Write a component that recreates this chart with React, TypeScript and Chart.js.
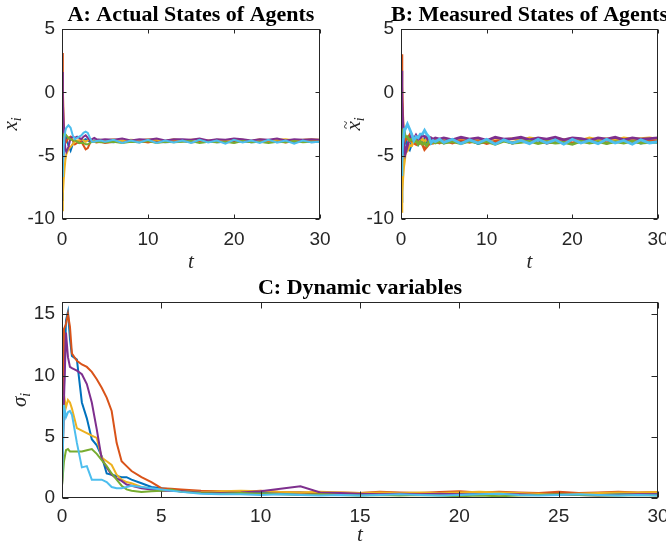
import React, { useEffect, useRef } from 'react';
import { Chart, registerables } from 'chart.js';

Chart.register(...registerables);

// ---------- shared ----------
const seriesColors = ['#0072BD', '#D95319', '#EDB120', '#7E2F8E', '#77AC30', '#4DBEEE'];

// ---------- panels A and B: time grid ----------
const tAB = [0, 0.1, 0.2, 0.3, 0.4, 0.5, 0.75, 1, 1.25, 1.5, 1.75, 2, 2.25, 2.5, 2.75, 3, 3.25, 3.5, 3.75, 4, 4.5,
  5, 6, 7, 8, 9, 10, 11, 12, 13, 14, 15, 16, 17, 18, 19, 20, 21, 22, 23, 24, 25, 26, 27, 28, 29, 30];
const xTicksAB = [0, 10, 20, 30];
const yTicksAB = [-10, -5, 0, 5];

// A: actual states
const aBlue = [-8.5, -6.2, -4.6, -3.6, -3.4, -3.6, -4.2, -4.6, -4.1, -3.8, -3.9, -4.0, -3.9, -3.8, -3.7, -3.8, -3.9, -3.9, -3.8, -3.9, -3.85,
  -3.9, -3.95, -3.85, -3.9, -3.95, -3.85, -3.9, -3.95, -3.9, -3.85, -3.95, -3.9, -3.85, -3.95, -3.9, -3.9, -3.85, -3.95, -3.9, -3.85, -3.95, -3.9, -3.9, -3.85, -3.95, -3.9];
const aOrange = [3.1, 0.2, -2.4, -3.4, -3.8, -3.9, -3.6, -3.5, -3.8, -4.1, -4.0, -3.8, -3.9, -4.2, -4.5, -4.4, -4.0, -3.8, -3.9, -3.95, -3.9,
  -4.0, -3.9, -3.8, -3.9, -3.85, -3.95, -3.8, -3.9, -3.85, -3.8, -3.95, -3.9, -3.8, -3.9, -3.85, -3.95, -3.8, -3.9, -3.85, -3.9, -3.8, -3.95, -3.85, -3.9, -3.8, -3.9];
const aYellow = [-9.3, -8.0, -6.9, -6.0, -5.3, -4.9, -4.5, -4.3, -4.1, -3.9, -3.8, -3.8, -3.7, -3.8, -3.9, -3.8, -3.7, -3.8, -3.9, -3.8, -3.75,
  -3.8, -3.7, -3.85, -3.75, -3.8, -3.7, -3.75, -3.85, -3.7, -3.8, -3.75, -3.7, -3.85, -3.75, -3.8, -3.7, -3.75, -3.85, -3.7, -3.8, -3.75, -3.7, -3.8, -3.75, -3.7, -3.75];
const aPurple = [1.6, -0.8, -2.6, -3.8, -4.5, -4.7, -4.3, -3.6, -3.5, -3.6, -3.5, -3.6, -3.7, -3.5, -3.4, -3.6, -3.8, -3.7, -3.6, -3.7, -3.75,
  -3.7, -3.75, -3.65, -3.8, -3.7, -3.75, -3.65, -3.8, -3.7, -3.7, -3.75, -3.65, -3.8, -3.7, -3.75, -3.65, -3.7, -3.8, -3.7, -3.75, -3.65, -3.8, -3.7, -3.75, -3.7, -3.75];
const aGreen = [-3.5, -3.4, -3.3, -3.3, -3.3, -3.4, -3.6, -3.7, -3.8, -3.8, -3.9, -4.0, -4.0, -4.0, -4.1, -4.1, -4.0, -3.9, -3.9, -3.9, -3.95,
  -3.95, -3.9, -4.0, -3.9, -3.95, -3.85, -4.0, -3.9, -3.95, -3.9, -3.85, -4.0, -3.9, -3.95, -3.9, -4.0, -3.85, -3.95, -3.9, -4.0, -3.9, -3.95, -3.85, -3.95, -3.9, -3.9];
const aLightBlue = [-6.6, -5.2, -4.2, -3.5, -3.0, -2.8, -2.6, -2.8, -3.4, -3.7, -3.6, -3.5, -3.4, -3.2, -3.1, -3.2, -3.6, -3.9, -3.9, -3.85, -3.8,
  -3.9, -3.75, -4.0, -3.8, -3.95, -3.75, -4.0, -3.8, -3.95, -3.8, -4.0, -3.75, -3.95, -3.8, -4.05, -3.75, -3.95, -3.8, -4.0, -3.75, -3.95, -3.8, -4.05, -3.8, -3.95, -3.9];

// B: measured states
const bBlue = [-8.6, -6.0, -4.5, -3.7, -3.3, -3.7, -4.3, -4.5, -4.0, -3.9, -3.8, -4.1, -3.8, -3.9, -3.7, -3.9, -3.8, -4.0, -3.8, -3.9, -3.8,
  -4.0, -3.8, -3.95, -3.75, -4.05, -3.85, -3.95, -3.8, -4.0, -3.85, -3.95, -3.75, -4.0, -3.9, -3.8, -4.05, -3.85, -3.95, -3.8, -4.0, -3.85, -3.95, -3.8, -4.0, -3.85, -3.9];
const bOrange = [3.0, 0.5, -2.0, -3.3, -3.9, -3.7, -3.7, -3.4, -3.9, -4.0, -4.1, -3.7, -4.0, -4.1, -4.5, -4.3, -4.1, -3.7, -4.0, -3.9, -4.0,
  -3.8, -4.0, -3.75, -3.95, -3.8, -4.05, -3.85, -3.75, -4.0, -3.8, -3.95, -3.7, -4.0, -3.85, -3.75, -4.0, -3.8, -3.95, -3.75, -4.0, -3.85, -3.7, -3.95, -3.8, -3.9, -3.75];
const bYellow = [-9.4, -7.9, -6.8, -5.9, -5.4, -4.8, -4.6, -4.2, -4.2, -3.8, -3.9, -3.7, -3.8, -3.7, -3.9, -3.7, -3.8, -3.7, -3.9, -3.7, -3.8,
  -3.65, -3.8, -3.6, -3.75, -3.65, -3.85, -3.6, -3.75, -3.65, -3.8, -3.6, -3.7, -3.85, -3.6, -3.75, -3.65, -3.8, -3.6, -3.75, -3.65, -3.8, -3.6, -3.7, -3.65, -3.6, -3.7];
const bPurple = [1.7, -0.6, -2.5, -3.9, -4.4, -4.8, -4.2, -3.7, -3.4, -3.7, -3.4, -3.7, -3.6, -3.4, -3.5, -3.5, -3.9, -3.6, -3.7, -3.6, -3.7,
  -3.6, -3.75, -3.55, -3.7, -3.6, -3.8, -3.55, -3.7, -3.65, -3.55, -3.75, -3.6, -3.7, -3.55, -3.75, -3.6, -3.65, -3.8, -3.6, -3.7, -3.55, -3.75, -3.6, -3.7, -3.65, -3.6];
const bGreen = [-3.4, -3.5, -3.2, -3.4, -3.2, -3.5, -3.5, -3.8, -3.7, -3.9, -3.8, -4.1, -3.9, -4.1, -4.0, -4.2, -3.9, -4.0, -3.9, -4.0, -3.9,
  -4.0, -3.9, -4.05, -3.85, -4.0, -3.9, -4.1, -3.85, -4.0, -3.95, -3.85, -4.05, -3.9, -4.0, -3.95, -4.1, -3.85, -4.0, -3.9, -4.05, -3.9, -4.0, -3.85, -4.0, -3.95, -3.95];
const bLightBlue = [-6.5, -5.3, -4.0, -3.6, -2.9, -2.9, -2.5, -2.9, -3.3, -3.8, -3.5, -3.6, -3.3, -3.3, -3.0, -3.3, -3.5, -4.0, -3.8, -3.9, -3.7,
  -3.95, -3.7, -4.05, -3.75, -4.0, -3.7, -4.1, -3.75, -4.0, -3.8, -4.05, -3.7, -4.0, -3.75, -4.1, -3.7, -4.0, -3.8, -4.05, -3.7, -4.0, -3.8, -4.1, -3.75, -4.0, -3.9];

// ---------- panel C: dynamic variables ----------
const tC = [0, 0.1, 0.2, 0.3, 0.4, 0.5, 0.75, 1, 1.25, 1.5, 1.75, 2, 2.25, 2.5, 2.75, 3, 3.25, 3.5, 4, 4.5,
  5, 5.5, 6, 7, 8, 9, 10, 11, 12, 13, 14, 15, 16, 17, 18, 19, 20, 21, 22, 23, 24, 25, 26, 27, 28, 29, 30];
const xTicksC = [0, 5, 10, 15, 20, 25, 30];
const yTicksC = [0, 5, 10, 15];
const cBlue = [1.0, 9.0, 14.5, 15.2, 13.0, 11.6, 11.3, 7.8, 6.5, 4.8, 4.3, 3.4, 2.0, 1.9, 1.8, 1.7, 1.7, 1.5, 1.2, 0.9,
  0.8, 0.7, 0.6, 0.55, 0.5, 0.45, 0.5, 0.4, 0.45, 0.35, 0.4, 0.3, 0.35, 0.4, 0.3, 0.35, 0.45, 0.4, 0.35, 0.3, 0.35, 0.3, 0.4, 0.3, 0.35, 0.3, 0.3];
const cOrange = [1.0, 13.8, 14.2, 15.0, 14.0, 11.8, 11.2, 10.9, 10.7, 10.3, 9.7, 9.0, 8.2, 7.1, 4.5, 3.0, 2.6, 2.2, 1.7, 1.3,
  0.8, 0.75, 0.7, 0.6, 0.55, 0.5, 0.6, 0.5, 0.45, 0.4, 0.45, 0.4, 0.5, 0.45, 0.4, 0.5, 0.55, 0.45, 0.5, 0.45, 0.4, 0.5, 0.4, 0.45, 0.5, 0.45, 0.5];
const cYellow = [1.0, 8.4, 7.4, 8.0, 7.8, 7.3, 5.7, 5.5, 5.3, 5.1, 4.9, 3.3, 3.0, 2.7, 1.9, 1.5, 1.3, 1.2, 0.9, 0.75,
  0.65, 0.6, 0.55, 0.5, 0.55, 0.6, 0.55, 0.5, 0.45, 0.5, 0.45, 0.4, 0.45, 0.4, 0.45, 0.4, 0.45, 0.5, 0.45, 0.4, 0.35, 0.3, 0.35, 0.4, 0.45, 0.45, 0.5];
const cPurple = [1.0, 8.0, 13.5, 11.5, 10.7, 10.6, 10.4, 10.1, 9.3, 7.8, 5.6, 3.2, 2.5, 1.9, 1.6, 1.4, 1.1, 1.0, 0.8, 0.7,
  0.6, 0.6, 0.55, 0.45, 0.4, 0.45, 0.55, 0.75, 0.95, 0.45, 0.4, 0.35, 0.3, 0.35, 0.3, 0.35, 0.3, 0.25, 0.3, 0.3, 0.25, 0.3, 0.25, 0.2, 0.25, 0.3, 0.3];
const cGreen = [1.0, 3.0, 3.9, 4.0, 3.8, 3.8, 3.8, 3.8, 3.9, 4.0, 3.6, 3.1, 2.6, 2.0, 1.5, 1.0, 0.7, 0.6, 0.5, 0.55,
  0.6, 0.7, 0.5, 0.4, 0.35, 0.4, 0.35, 0.3, 0.25, 0.3, 0.25, 0.2, 0.25, 0.2, 0.25, 0.2, 0.15, 0.2, 0.15, 0.2, 0.25, 0.3, 0.25, 0.2, 0.2, 0.25, 0.2];
const cLightBlue = [1.0, 7.6, 6.6, 7.0, 7.1, 6.8, 4.5, 2.5, 2.6, 1.5, 1.5, 1.5, 1.3, 0.9, 0.8, 0.8, 0.9, 1.0, 0.9, 0.8,
  0.7, 0.6, 0.5, 0.35, 0.3, 0.3, 0.25, 0.3, 0.25, 0.2, 0.25, 0.2, 0.25, 0.3, 0.25, 0.2, 0.25, 0.3, 0.35, 0.25, 0.2, 0.25, 0.3, 0.25, 0.2, 0.25, 0.2];

const AXIS_COLOR = '#262626';
const TICK_FONT = { family: '"Liberation Sans", Arial, sans-serif', size: 19 };
const SERIF = '"Liberation Serif", "Times New Roman", serif';

// Centres the title block over the plot area (and lets it overflow like MATLAB's titles do)
const centerTitle = {
  id: 'centerTitle',
  afterLayout(chart: any) {
    const tb = chart.titleBlock;
    if (!tb) return;
    const c = (chart.chartArea.left + chart.chartArea.right) / 2;
    const half = 400;
    tb.left = c - half;
    tb.right = c + half;
    tb.width = half * 2;
  },
};

// Draws MATLAB-like box, inward ticks and the y label with subscript
const matlabAxes = {
  id: 'matlabAxes',
  afterDraw(chart: any, _args: any, opts: any) {
    const { ctx, chartArea: a, scales } = chart;
    const L = Math.round(a.left) + 0.5;
    const R = Math.round(a.right) - 0.5;
    const T = Math.round(a.top) + 0.5;
    const B = Math.round(a.bottom) - 0.5;
    ctx.save();
    ctx.strokeStyle = AXIS_COLOR;
    ctx.lineWidth = 1;
    ctx.strokeRect(L, T, R - L, B - T);
    const len = opts.tickLen;
    ctx.beginPath();
    scales.x.ticks.forEach((t: any) => {
      const px = Math.round(scales.x.getPixelForValue(t.value)) + 0.5;
      ctx.moveTo(px, B); ctx.lineTo(px, B - len);
      ctx.moveTo(px, T); ctx.lineTo(px, T + len);
    });
    scales.y.ticks.forEach((t: any) => {
      const py = Math.round(scales.y.getPixelForValue(t.value)) + 0.5;
      ctx.moveTo(L, py); ctx.lineTo(L + len, py);
      ctx.moveTo(R, py); ctx.lineTo(R - len, py);
    });
    ctx.stroke();

    // y-axis label
    const yl = opts.yLabel;
    ctx.translate(yl.x, (a.top + a.bottom) / 2);
    ctx.rotate(-Math.PI / 2);
    ctx.fillStyle = AXIS_COLOR;
    ctx.textBaseline = 'alphabetic';
    ctx.textAlign = 'left';
    const mainFont = `italic 21px ${SERIF}`;
    const subFont = `italic 14px ${SERIF}`;
    ctx.font = mainFont;
    const w1 = ctx.measureText(yl.main).width;
    ctx.font = subFont;
    const w2 = ctx.measureText(yl.sub).width;
    const x0 = -(w1 + w2) / 2;
    ctx.font = mainFont;
    ctx.fillText(yl.main, x0, 0);
    if (yl.tilde) {
      ctx.font = `15px ${SERIF}`;
      const tw = ctx.measureText('~').width;
      ctx.fillText('~', x0 + (w1 - tw) / 2 + 1, -9);
    }
    ctx.font = subFont;
    ctx.fillText(yl.sub, x0 + w1, 4);
    ctx.restore();
  },
};

type Panel = {
  title: string;
  t: number[];
  series: number[][];
  xTicks: number[];
  yTicks: number[];
  yMin: number;
  yMax: number;
  yAxisWidth: number;
  xAxisHeight: number;
  padRight: number;
  xLabelPad: number;
  lineWidth: number;
  tickLen: number;
  yLabel: { main: string; sub: string; tilde: boolean; x: number };
};

function buildConfig(p: Panel): any {
  const datasets = p.series
    .map((vals, i) => ({
      data: p.t.map((tv, k) => ({ x: tv, y: vals[k] })),
      borderColor: seriesColors[i],
      backgroundColor: seriesColors[i],
      borderWidth: p.lineWidth,
      pointRadius: 0,
      tension: 0,
      fill: false,
    }))
    .reverse(); // Chart.js draws dataset 0 last; keep MATLAB stacking (last series on top)

  return {
    type: 'line',
    data: { datasets },
    options: {
      animation: false,
      responsive: false,
      events: [],
      layout: { padding: { right: p.padRight, left: 0, top: 0, bottom: 0 } },
      plugins: {
        legend: { display: false },
        tooltip: { enabled: false },
        title: {
          display: true,
          text: p.title,
          color: '#000000',
          font: { family: SERIF, size: 22, weight: 'bold', lineHeight: 1.2 },
          padding: { top: 1.8, bottom: 0.8 },
        },
        matlabAxes: { tickLen: p.tickLen, yLabel: p.yLabel },
      },
      scales: {
        x: {
          type: 'linear',
          min: 0,
          max: 30,
          grid: { display: false, drawTicks: false },
          border: { display: false },
          ticks: { color: AXIS_COLOR, font: TICK_FONT, padding: p.xLabelPad, maxRotation: 0 },
          afterBuildTicks: (s: any) => { s.ticks = p.xTicks.map((v) => ({ value: v })); },
          afterFit: (s: any) => { s.height = p.xAxisHeight; },
          title: {
            display: true,
            text: 't',
            color: AXIS_COLOR,
            font: { family: SERIF, size: 21, style: 'italic', lineHeight: 1.0 },
            padding: { top: 0, bottom: 0 },
          },
        },
        y: {
          type: 'linear',
          min: p.yMin,
          max: p.yMax,
          grid: { display: false, drawTicks: false },
          border: { display: false },
          ticks: { color: AXIS_COLOR, font: TICK_FONT, padding: 7 },
          afterBuildTicks: (s: any) => { s.ticks = p.yTicks.map((v) => ({ value: v })); },
          afterFit: (s: any) => { s.width = p.yAxisWidth; },
          title: { display: false },
        },
      },
    },
    plugins: [centerTitle, matlabAxes],
  };
}

function ChartCanvas({ panel, left, top, width, height }: { panel: Panel; left: number; top: number; width: number; height: number }) {
  const ref = useRef<HTMLCanvasElement | null>(null);
  useEffect(() => {
    if (!ref.current) return;
    const chart = new Chart(ref.current, buildConfig(panel));
    return () => chart.destroy();
  }, [panel]);
  return (
    <canvas
      ref={ref}
      width={width}
      height={height}
      style={{ position: 'absolute', left, top, width, height }}
    />
  );
}

const panelA: Panel = {
  title: 'A: Actual States of Agents',
  t: tAB,
  series: [aBlue, aOrange, aYellow, aPurple, aGreen, aLightBlue],
  xTicks: xTicksAB,
  yTicks: yTicksAB,
  yMin: -10,
  yMax: 5,
  yAxisWidth: 62,
  xAxisHeight: 54,
  padRight: 22,
  xLabelPad: 9.5,
  lineWidth: 2,
  tickLen: 4,
  yLabel: { main: 'x', sub: 'i', tilde: false, x: 16.5 },
};

const panelB: Panel = {
  title: 'B: Measured States of Agents',
  t: tAB,
  series: [bBlue, bOrange, bYellow, bPurple, bGreen, bLightBlue],
  xTicks: xTicksAB,
  yTicks: yTicksAB,
  yMin: -10,
  yMax: 5,
  yAxisWidth: 61,
  xAxisHeight: 54,
  padRight: 22,
  xLabelPad: 9.5,
  lineWidth: 2.8,
  tickLen: 4,
  yLabel: { main: 'x', sub: 'i', tilde: true, x: 19.5 },
};

const panelC: Panel = {
  title: 'C: Dynamic variables',
  t: tC,
  series: [cBlue, cOrange, cYellow, cPurple, cGreen, cLightBlue],
  xTicks: xTicksC,
  yTicks: yTicksC,
  yMin: 0,
  yMax: 16,
  yAxisWidth: 62,
  xAxisHeight: 48,
  padRight: 22,
  xLabelPad: 7,
  lineWidth: 2,
  tickLen: 6,
  yLabel: { main: 'σ', sub: 'i', tilde: false, x: 26 },
};

export default function App() {
  return (
    <div
      style={{
        position: 'absolute',
        left: 0,
        top: 0,
        width: 666,
        height: 546,
        overflow: 'hidden',
        background: '#ffffff',
      }}
    >
      <ChartCanvas panel={panelA} left={0} top={0} width={342} height={273} />
      <ChartCanvas panel={panelB} left={340} top={0} width={340} height={273} />
      <ChartCanvas panel={panelC} left={0} top={273} width={680} height={273} />
    </div>
  );
}
